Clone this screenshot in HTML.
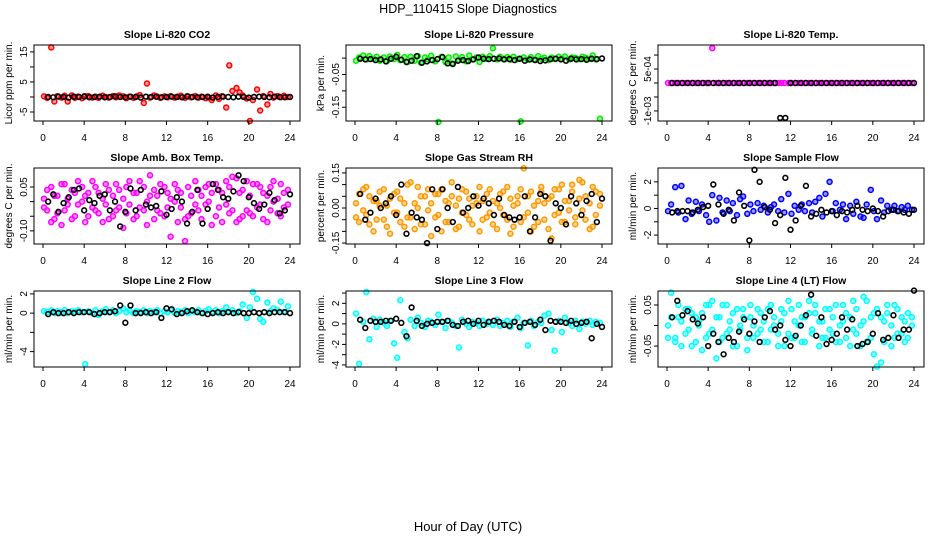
<!DOCTYPE html>
<html><head><meta charset="utf-8"><style>
html,body{margin:0;padding:0;background:#fff;}
svg{display:block;font-family:"Liberation Sans",sans-serif;}
</style></head><body>
<svg id="chart" width="936" height="540" viewBox="0 0 936 540">
<text x="468" y="13" text-anchor="middle" font-size="12.5">HDP_110415  Slope Diagnostics</text>
<text x="468" y="531" text-anchor="middle" font-size="13">Hour of Day (UTC)</text>
</svg>
<script>
const hours = [0.1,0.4,0.8,1.1,1.4,1.8,2.1,2.4,2.8,3.1,3.4,3.8,4.1,4.4,4.8,5.1,5.4,5.8,6.1,6.4,6.8,7.1,7.4,7.8,8.1,8.4,8.8,9.1,9.4,9.8,10.1,10.4,10.8,11.1,11.4,11.8,12.1,12.4,12.8,13.1,13.4,13.8,14.1,14.4,14.8,15.1,15.4,15.8,16.1,16.4,16.8,17.1,17.4,17.8,18.1,18.4,18.8,19.1,19.4,19.8,20.1,20.4,20.8,21.1,21.4,21.8,22.1,22.4,22.8,23.1,23.4,23.8];
const blackHours = [0.5,1,1.5,2,2.5,3,3.5,4,4.5,5,5.5,6,6.5,7,7.5,8,8.5,9,9.5,10,10.5,11,11.5,12,12.5,13,13.5,14,14.5,15,15.5,16,16.5,17,17.5,18,18.5,19,19.5,20,20.5,21,21.5,22,22.5,23,23.5,24];
const xTicks = [0,4,8,12,16,20,24];

const co2C = [0.2,-0.3,16.5,-1.5,0.3,-0.2,0.4,-1.5,0.5,-0.3,0.1,-0.4,0.2,0.3,-0.2,0.1,-0.3,0.4,0,-0.2,0.3,-0.1,0.5,0.2,-0.4,0.1,-0.3,0.2,0.6,-2,4.5,-0.2,0.5,0.1,-0.3,0.2,-0.1,0.3,-0.2,0.1,0.4,-0.3,0.2,-0.1,0.3,-0.2,0.1,-0.4,-0.2,-1,0.5,-0.6,0.3,-3.5,10.5,2,3,1.5,0.5,-0.5,-8,-1,2.5,-4.5,0.3,-2.5,1,-0.2,0.3,-0.1,0.4,0];
const co2K = [0,-0.1,0.1,0,-0.2,0.1,0,0.2,-0.1,0,0.1,-0.1,0,0.2,0,-0.1,0.1,0,-0.2,0.1,0,0.1,-0.1,0,0.1,0,-0.1,0.2,0,-0.1,0,0.1,-0.2,0,0.1,0,-0.1,0.1,0,-0.2,0,0.1,0,-0.1,0.1,0,-0.1,0];
const presC = [-0.008,0.002,0.008,-0.004,0.006,-0.002,0.004,-0.008,0.002,-0.01,0.005,-0.003,0.01,-0.006,0.003,-0.012,0.004,-0.008,0.006,-0.014,0.002,-0.004,0.007,-0.01,-0.195,0.004,-0.012,0.002,-0.016,0.005,-0.006,0.003,-0.01,0.008,-0.004,0.002,-0.012,0.004,-0.002,0.006,0.03,-0.004,0.004,-0.002,0.003,-0.005,0.004,-0.003,-0.193,0.002,-0.005,0.003,-0.004,0.006,-0.002,0.001,-0.006,0.002,-0.003,0.004,-0.002,0.005,-0.004,0.002,0.001,-0.003,0.004,0.001,-0.002,0.008,-0.004,-0.185];
const presK = [-0.002,-0.004,-0.003,-0.006,-0.004,-0.01,-0.002,0.004,-0.005,-0.012,-0.008,0.006,-0.014,-0.01,-0.006,-0.003,0.003,-0.016,-0.018,-0.008,-0.006,-0.009,-0.004,0.002,-0.002,-0.003,-0.002,-0.001,-0.004,-0.003,-0.006,-0.002,-0.008,-0.004,-0.006,-0.009,-0.007,-0.003,-0.002,-0.004,-0.008,-0.002,-0.004,-0.003,-0.005,-0.002,-0.003,-0.001];
const tempC = [0,0,0,0,0,0,0,0,0,0,0,0,0,0.00125,0,0,0,0,0,0,0,0,0,0,0,0,0,0,0,0,0,0,0,0,0,0,0,0,0,0,0,0,0,0,0,0,0,0,0,0,0,0,0,0,0,0,0,0,0,0,0,0,0,0,0,0,0,0,0,0,0,0];
const tempK = [0,0,0,0,0,0,0,0,0,0,0,0,0,0,0,0,0,0,0,0,0,-0.00125,-0.00125,0,0,0,0,0,0,0,0,0,0,0,0,0,0,0,0,0,0,0,0,0,0,0,0,0];
const ambA = [0.01,-0.03,0.05,-0.06,0.02,-0.08,0.06,-0.01,0.04,-0.05,0.07,0.0,-0.07,0.03,-0.02,0.05,-0.04,0.01,0.06,-0.06,0.02,-0.03,0.04,-0.09,0.05,-0.01,0.03,-0.05,0.07,-0.03,0.0,0.09,-0.06,0.02,-0.04,0.05,-0.02,0.01,0.06,-0.07,0.03,-0.135,-0.05,0.02,-0.01,0.04,-0.06,0.05,0.0,-0.08,0.06,-0.02,0.03,0.07,-0.04,0.085,0.08,-0.06,0.04,-0.03,0.02,-0.05,0.06,-0.01,0.03,-0.07,0.05,0.0,-0.04,0.06,-0.02,0.04];
const ambB = [-0.02,0.04,-0.07,0.02,-0.04,0.06,-0.03,0.01,-0.06,0.03,-0.01,0.05,0.02,-0.05,0.07,-0.03,0.03,-0.07,-0.01,0.04,-0.05,0.06,-0.02,0.01,-0.04,0.07,-0.06,0.03,-0.02,0.05,-0.08,0.02,0.04,-0.03,0.06,-0.05,0.03,-0.12,0.0,0.04,-0.02,-0.06,0.05,-0.04,0.07,-0.03,0.02,-0.01,0.06,0.03,-0.05,0.04,-0.07,-0.01,0.05,-0.03,-0.07,0.03,-0.05,0.07,-0.04,0.06,-0.02,0.05,-0.06,0.02,-0.03,0.07,0.01,-0.05,0.03,-0.01];
const ambK = [0.0,0.025,-0.035,-0.005,0.015,0.04,0.045,-0.03,0.005,-0.005,0.02,0.025,-0.03,0.0,-0.085,-0.035,0.045,-0.03,0.04,-0.01,-0.02,-0.015,0.035,-0.045,-0.025,0.015,0.0,-0.075,-0.035,0.04,-0.075,-0.025,0.06,0.04,0.015,0.01,0.035,0.09,0.07,0.015,-0.005,-0.025,-0.01,0.03,0.005,-0.04,-0.03,0.025];
const rhA = [0.02,-0.06,0.08,-0.03,0.05,-0.1,0.03,0.07,-0.05,0.01,-0.11,0.06,-0.02,0.04,-0.08,0.1,-0.04,0.02,0.09,-0.07,0.05,-0.01,-0.12,0.06,-0.03,0.08,-0.06,0.02,0.11,-0.09,0.04,-0.02,0.07,-0.05,0.01,0.05,-0.1,0.03,-0.04,0.08,-0.07,0.02,0.06,-0.03,0.09,-0.11,0.01,0.05,-0.06,0.17,-0.02,0.07,-0.08,0.03,0.09,-0.05,0.04,-0.13,0.08,-0.02,0.1,-0.06,0.03,0.07,-0.04,0.12,-0.01,0.05,-0.09,0.09,-0.03,0.06];
const rhB = [-0.04,0.06,-0.01,0.09,-0.07,0.03,-0.05,0.01,0.08,-0.08,0.04,-0.02,0.07,-0.06,0.02,-0.04,0.11,-0.09,0.0,0.05,-0.07,0.08,0.02,-0.04,0.06,-0.1,0.03,-0.06,0.05,0.01,-0.08,0.08,-0.03,0.04,-0.07,0.02,0.09,-0.05,0.06,-0.02,0.03,-0.09,0.0,0.07,-0.05,0.04,-0.08,0.02,0.08,-0.04,0.05,-0.1,0.01,-0.06,0.07,0.02,-0.09,0.05,-0.03,0.08,-0.06,0.03,-0.01,0.1,-0.07,0.04,0.11,-0.05,0.02,-0.08,0.07,0.01];
const rhK = [0.06,-0.05,-0.02,0.04,0.0,0.02,0.05,-0.03,0.1,-0.11,-0.02,-0.04,-0.05,-0.15,0.08,-0.09,0.08,0.0,-0.06,0.09,-0.02,0.0,0.05,0.01,0.04,0.02,-0.03,0.04,-0.03,-0.04,-0.05,-0.04,0.05,-0.1,-0.04,0.06,0.05,-0.14,0.02,0.0,-0.07,0.05,0.02,-0.03,0.03,0.06,-0.06,0.04];
const sfC = [-0.2,0.3,1.6,-0.3,1.7,-0.8,0.6,-0.4,0.5,-0.2,0.3,-0.5,-1.0,1.0,-0.9,0.8,-0.3,0.6,-0.2,0.4,-0.5,0.7,0.9,-0.4,0.3,-0.2,0.4,-0.1,0.2,-0.3,0.1,0.3,-0.2,0.7,-0.3,1.1,-0.4,0.2,-0.1,0.3,-0.2,0.4,-0.3,0.5,0.8,-0.6,1.1,2.0,-0.2,0.4,-0.1,0.3,-0.8,0.2,-0.4,0.5,-0.6,-0.7,0.3,1.4,-0.2,-0.8,0.6,-0.3,0.2,-0.1,0.2,-0.2,0.1,-0.1,0.2,-0.1];
const sfK = [-0.3,-0.2,-0.2,-0.2,-0.3,-0.1,0.1,0.2,1.8,0.3,-0.4,-0.1,-0.9,1.2,0.2,-2.4,2.9,2.0,0.1,-0.1,-1.1,-0.5,2.3,-1.6,-0.9,0.2,1.7,-0.6,-0.4,-0.1,-0.3,-0.2,-0.5,-0.2,-0.3,-0.1,0.2,-0.1,-0.2,0.0,-0.2,-0.6,-0.2,-0.1,-0.2,-0.3,-0.4,-0.1];
const l2C = [0.2,0.1,0.3,0.0,0.2,0.1,0.3,0.0,0.2,0.1,0.3,0.1,-5.3,0.2,0.0,0.3,-0.2,0.2,0.4,0.1,0.3,0.0,0.2,0.5,0.1,0.3,0.0,0.2,0.1,0.3,0.0,0.2,0.1,0.3,0.0,0.2,0.1,0.3,0.0,0.2,0.1,0.3,0.0,0.2,0.1,0.3,0.0,0.2,0.4,0.1,0.3,0.0,0.2,0.6,0.1,0.3,0.0,0.2,0.9,-0.5,0.6,2.2,1.5,-0.6,-0.9,1.1,0.2,0.5,0.3,1.2,0.1,0.7];
const l2K = [-0.1,0.1,0,0,0.1,0,0.1,0.1,0.1,-0.1,0,0.1,0.1,0.2,0.8,-1.0,0.8,0,0,0.1,0,0.1,-0.5,0.5,0.4,-0.1,0,0.2,0.3,0.1,0,-0.1,0,0.1,0,0.1,0,0.1,0,0,0.1,0,0.1,0,0.1,0.1,0.1,0];
const l3C = [1.0,-3.9,0.2,3.1,-1.5,0.5,-0.3,0.4,0.1,-0.2,0.3,-1.9,-3.3,2.3,-0.8,-1.4,0.4,-0.2,0.6,0.1,-0.3,0.3,0.2,-0.1,0.9,0.2,-0.4,0.3,0.1,-0.2,-2.3,0.4,0.0,-0.3,0.2,0.1,-0.2,0.3,0.0,0.2,-0.1,0.4,-0.2,0.1,0.3,-0.3,0.2,0.6,-0.4,0.1,-2.1,0.3,-0.2,0.2,0.1,0.8,1.0,-0.6,-2.6,0.3,-0.8,0.6,0.1,-0.2,0.3,-0.5,0.2,0.0,0.3,-0.1,0.2,0.1];
const l3K = [0.4,-0.4,0.3,0.2,0.2,0.3,0.3,0.5,0.1,-1.2,1.6,0.3,-0.2,0,0.1,0.2,0.2,0.3,-0.1,-0.2,0.2,0.3,0,0.3,-0.1,0.2,0.3,0.2,-0.1,-0.2,0.2,-0.3,0.1,0.2,-0.1,0.4,-0.6,0.3,0.2,0.2,0.1,0.3,0,0.1,0.2,-1.4,0,-0.3];
const l4A = [0.0,0.08,-0.03,0.02,-0.05,0.04,-0.01,0.03,-0.04,0.01,-0.06,0.05,-0.02,0.06,-0.08,0.02,-0.03,0.05,-0.01,0.03,-0.05,0.0,0.04,-0.06,0.02,-0.03,0.04,-0.01,0.01,-0.04,0.05,0.0,-0.02,0.04,-0.05,0.06,-0.03,0.01,0.05,-0.04,0.02,0.06,-0.01,0.03,-0.05,0.01,-0.03,0.04,-0.02,0.05,-0.04,0.01,0.03,-0.05,0.06,-0.02,0.0,0.07,-0.04,0.02,-0.07,0.04,-0.09,0.01,0.03,-0.05,0.05,-0.02,0.02,-0.04,0.03,0.0];
const l4B = [-0.03,0.02,-0.04,0.05,0.01,-0.02,0.04,-0.05,0.02,0.0,0.03,-0.03,0.05,-0.01,0.02,-0.04,0.05,-0.02,0.01,-0.05,0.04,-0.01,0.02,-0.03,0.05,0.0,-0.02,0.03,-0.04,0.04,-0.01,0.02,-0.05,0.01,0.03,-0.02,0.04,-0.03,0.0,0.02,-0.04,0.03,-0.02,0.05,0.01,-0.03,0.04,-0.01,0.02,-0.04,0.0,0.05,-0.03,0.02,-0.01,0.04,-0.05,0.01,0.06,-0.03,0.03,-0.1,0.02,-0.04,0.05,0.0,-0.03,0.04,-0.02,0.01,-0.03,0.02];
const l4K = [0.02,0.06,0.025,0.035,0.015,0.005,0.02,-0.05,-0.02,-0.04,-0.07,-0.03,-0.04,-0.015,0.015,-0.02,0.01,-0.04,0.02,0.035,-0.01,0.0,-0.035,-0.05,-0.025,0.0,0.025,0.075,-0.025,0.02,-0.045,-0.035,-0.02,0.02,-0.01,0.015,-0.05,-0.045,-0.04,-0.02,0.03,-0.035,-0.03,0.025,-0.03,-0.01,-0.01,0.085];

const co2Ticks=[-5,0,5,10,15], co2Labels=["-5","","5","","15"];
const presTicks=[-0.15,-0.1,-0.05,0], presLabels=["-0.15","","-0.05",""];
const tempTicks=[-0.001,-0.0005,0,0.0005,0.001], tempLabels=["-1e-03","","","5e-04",""];
const ambTicks=[-0.1,-0.05,0,0.05], ambLabels=["-0.10","","","0.05"];
const rhTicks=[-0.15,-0.1,-0.05,0,0.05,0.1,0.15], rhLabels=["-0.15","","","0.00","","","0.15"];
const sfTicks=[-2,-1,0,1,2], sfLabels=["-2","","0","","2"];
const l2Ticks=[-4,-2,0,2], l2Labels=["-4","","0","2"];
const l3Ticks=[-4,-3,-2,-1,0,1,2,3], l3Labels=["-4","","-2","","0","","2",""];
const l4Ticks=[-0.05,0,0.05], l4Labels=["-0.05","","0.05"];

const panels = [
 {col:0,row:0,title:"Slope Li-820 CO2",yl:"Licor ppm per min.",min:-8,max:17.3,t:co2Ticks,tl:co2Labels,c:"#ff0000",cs:[co2C],k:co2K,n:"co2"},
 {col:1,row:0,title:"Slope Li-820 Pressure",yl:"kPa per min.",min:-0.192,max:0.04,t:presTicks,tl:presLabels,c:"#00ee00",cs:[presC],k:presK,n:"pressure"},
 {col:2,row:0,title:"Slope Li-820 Temp.",yl:"degrees C per min.",min:-0.00136,max:0.00136,t:tempTicks,tl:tempLabels,c:"#ff00ff",cs:[tempC],k:tempK,n:"temp"},
 {col:0,row:1,title:"Slope Amb. Box Temp.",yl:"degrees C per min.",min:-0.145,max:0.115,t:ambTicks,tl:ambLabels,c:"#ff00ff",cs:[ambA,ambB],k:ambK,n:"amb-box-temp"},
 {col:1,row:1,title:"Slope Gas Stream RH",yl:"percent per min.",min:-0.154,max:0.171,t:rhTicks,tl:rhLabels,c:"#ff9900",cs:[rhA,rhB],k:rhK,n:"gas-rh"},
 {col:2,row:1,title:"Slope Sample Flow",yl:"ml/min per min.",min:-2.67,max:3.04,t:sfTicks,tl:sfLabels,c:"#0000ff",cs:[sfC],k:sfK,n:"sample-flow"},
 {col:0,row:2,title:"Slope Line 2 Flow",yl:"ml/min per min.",min:-5.6,max:2.3,t:l2Ticks,tl:l2Labels,c:"#00ffff",cs:[l2C],k:l2K,n:"line2-flow"},
 {col:1,row:2,title:"Slope Line 3 Flow",yl:"ml/min per min.",min:-4.2,max:3.2,t:l3Ticks,tl:l3Labels,c:"#00ffff",cs:[l3C],k:l3K,n:"line3-flow"},
 {col:2,row:2,title:"Slope Line 4 (LT) Flow",yl:"ml/min per min.",min:-0.101,max:0.084,t:l4Ticks,tl:l4Labels,c:"#00ffff",cs:[l4A,l4B],k:l4K,n:"line4-flow"}
];

const NS="http://www.w3.org/2000/svg";
const svg=document.getElementById('chart');
function mk(tag,parent,attrs){const e=document.createElementNS(NS,tag);for(const a in attrs)e.setAttribute(a,attrs[a]);parent.appendChild(e);return e;}

panels.forEach(p=>{
  const x0=34+312*p.col, y0=45+123*p.row, w=266, h=76;
  const g=mk('g',svg,{});
  
  
  const xs=v=>x0+9+v*(247/24);
  const ys=v=>y0+h-(v-p.min)/(p.max-p.min)*h;
  const t=mk('text',g,{x:x0+w/2,y:y0-7,'text-anchor':'middle','font-size':'10.5','font-weight':'bold'});
  t.textContent=p.title;
  
  
  p.cs.forEach(arr=>{
    arr.forEach((v,i)=>{
      const c=mk('circle',g,{cx:xs(hours[i]),cy:ys(v),r:2.5,fill:p.c,'fill-opacity':0.4,stroke:p.c,'stroke-width':1.5});
      
      
    });
  });
  p.k.forEach((v,i)=>{
    const c=mk('circle',g,{cx:xs(blackHours[i]),cy:ys(v),r:2.4,fill:'none',stroke:'#000','stroke-width':1.6});
    
    
  });
  const box=mk('rect',g,{x:x0,y:y0,width:w,height:h,fill:'none',stroke:'#000','stroke-width':1});
  
  
  mk('line',g,{x1:xs(0),x2:xs(24),y1:y0+h,y2:y0+h,stroke:'#000'});
  xTicks.forEach(v=>{
    mk('line',g,{x1:xs(v),x2:xs(v),y1:y0+h,y2:y0+h+4,stroke:'#000'});
    const l=mk('text',g,{x:xs(v),y:y0+h+20,'text-anchor':'middle','font-size':'10'});
    l.textContent=v;
    
    
  });
  mk('line',g,{x1:x0,x2:x0,y1:ys(p.t[0]),y2:ys(p.t[p.t.length-1]),stroke:'#000'});
  p.t.forEach((v,i)=>{
    mk('line',g,{x1:x0,x2:x0-4,y1:ys(v),y2:ys(v),stroke:'#000'});
    if(p.tl[i]){
      const yy=ys(v), xx=x0-7;
      const l=mk('text',g,{x:xx,y:yy,'text-anchor':'middle','font-size':'10',transform:`rotate(-90 ${xx} ${yy})`});
      l.textContent=p.tl[i];
      
      
    }
  });
  const yx=x0-22, yy=y0+h/2;
  const yt=mk('text',g,{x:yx,y:yy,'text-anchor':'middle','font-size':'10',transform:`rotate(-90 ${yx} ${yy})`});
  yt.textContent=p.yl;
  
  
});
</script>
</body></html>
